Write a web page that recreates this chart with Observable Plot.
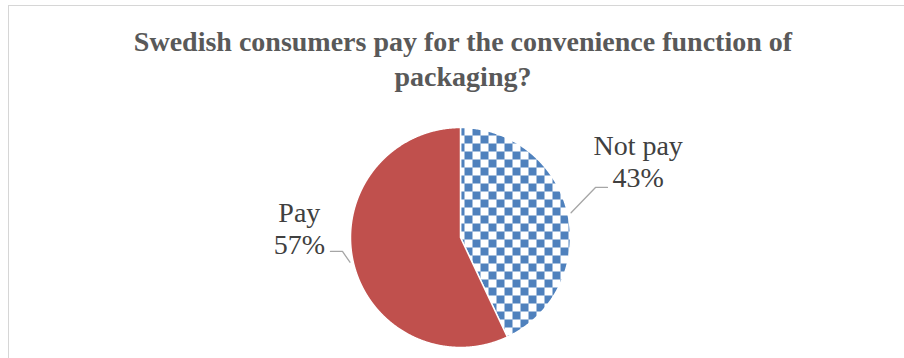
<!DOCTYPE html>
<html>
<head>
<meta charset="utf-8">
<script src="https://cdn.jsdelivr.net/npm/d3@7"></script>
<script src="https://cdn.jsdelivr.net/npm/@observablehq/plot@0.6"></script>
<style>
  html, body { margin: 0; padding: 0; background: #fff; }
  #wrap { position: relative; width: 904px; height: 358px; overflow: hidden; }
  #frame { position: absolute; left: 8px; top: 5px; width: 2000px; height: 2000px;
           border-top: 1px solid #d6d6d6; border-left: 1px solid #d6d6d6; box-sizing: border-box; }
  #title { position: absolute; left: 8px; width: 910px; top: 24px; text-align: center;
           font: bold 28px/35px "Liberation Serif", "Times New Roman", serif; color: #595959;
           white-space: nowrap; z-index: 2; }
  #chart { position: absolute; left: 0; top: 0; z-index: 1; }
</style>
</head>
<body>
<div id="wrap">
  <div id="frame"></div>
  <div id="title">Swedish consumers pay for the convenience function of<br>packaging?</div>
  <div id="chart"></div>
</div>
<script>
// ---- data ----
const categories = ["Not pay", "Pay"];
const shares = [43, 57];
const valueLabels = ["43%", "57%"];

// ---- layout / style (not data) ----
const W = 904, H = 358, CX = 460, CY = 237, R = 110;
const fills = {"Not pay": "url(#checker)", "Pay": "#C0504D"};
// label block centres and leader elbows/ends in radius units relative to pie centre
const labelLayout = {
  "Not pay": {lx: 1.615, ly: -0.70, ex: 1.227, ey: -0.455, tx: 1.336, ty: -0.455},
  "Pay":     {lx: -1.465, ly: -0.09, ex: -1.073, ey: 0.127, tx: -1.182, ty: 0.127}
};

const rows = categories.map((c, i) => ({category: c, share: shares[i], label: valueLabels[i]}));
const arcs = d3.pie().sort(null).value(d => d.share).startAngle(0).endAngle(2 * Math.PI)(rows);

// slice polygons in unit-circle coordinates (y grows downward)
const slicePts = [];
for (const a of arcs) {
  const c = a.data.category;
  slicePts.push({category: c, x: 0, y: 0});
  const n = Math.max(2, Math.ceil((a.endAngle - a.startAngle) / (Math.PI / 720)));
  for (let k = 0; k <= n; k++) {
    const t = a.startAngle + (a.endAngle - a.startAngle) * k / n;
    slicePts.push({category: c, x: Math.sin(t), y: -Math.cos(t)});
  }
  slicePts.push({category: c, x: 0, y: 0});
}

// leaders and labels
const leaderPts = [];
const labelRows = [];
for (const a of arcs) {
  const c = a.data.category;
  const L = labelLayout[c];
  const mid = (a.startAngle + a.endAngle) / 2;
  leaderPts.push({category: c, x: 1.03 * Math.sin(mid), y: -1.03 * Math.cos(mid)});
  leaderPts.push({category: c, x: L.ex, y: L.ey});
  leaderPts.push({category: c, x: L.tx, y: L.ty});
  labelRows.push({x: L.lx, y: L.ly, text: c + "\n" + a.data.label});
}

function checkerDefs() {
  const defs = d3.create("svg:defs");
  const p = defs.append("pattern").attr("id", "checker").attr("patternUnits", "userSpaceOnUse")
    .attr("x", 0).attr("y", 15).attr("width", 16).attr("height", 16);
  p.append("rect").attr("width", 16).attr("height", 16).attr("fill", "#ffffff");
  p.append("rect").attr("x", 8).attr("y", 0).attr("width", 8).attr("height", 8).attr("fill", "#4F81BD");
  p.append("rect").attr("x", 0).attr("y", 8).attr("width", 8).attr("height", 8).attr("fill", "#4F81BD");
  return defs.node();
}

const chart = Plot.plot({
  width: W, height: H, margin: 0,
  style: {background: "transparent", fontFamily: "Liberation Serif, Times New Roman, serif"},
  x: {domain: [-CX / R, (W - CX) / R], range: [0, W], axis: null},
  y: {domain: [-CY / R, (H - CY) / R], range: [0, H], axis: null},
  color: {type: "identity"},
  marks: [
    checkerDefs,
    Plot.line(slicePts, {x: "x", y: "y", z: "category", fill: d => fills[d.category],
      stroke: "#ffffff", strokeWidth: 1.5, strokeLinejoin: "round"}),
    Plot.line(leaderPts, {x: "x", y: "y", z: "category", stroke: "#a6a6a6", strokeWidth: 1.3}),
    Plot.text(labelRows, {x: "x", y: "y", text: "text", fontSize: 28, lineHeight: 1.15,
      fill: "#404040", fontFamily: "Liberation Serif, Times New Roman, serif", textAnchor: "middle"})
  ]
});
document.getElementById("chart").appendChild(chart);
</script>
</body>
</html>
